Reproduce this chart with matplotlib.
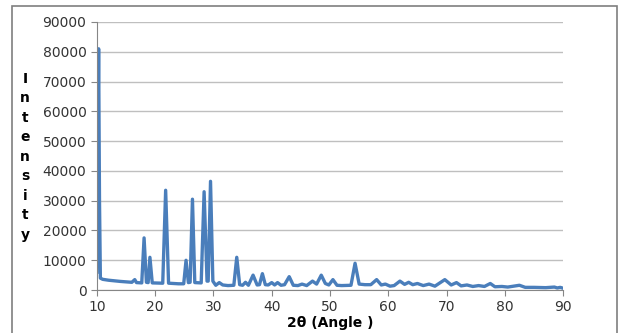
import matplotlib.pyplot as plt
from matplotlib.patches import Rectangle

# XRD pattern (2theta, intensity)
angle = [10.0, 10.15, 10.3, 10.45, 10.6, 11.0, 12.0, 14.0, 16.0, 16.5, 16.8,
         17.7, 18.1, 18.5, 18.8, 19.1, 19.5, 21.3, 21.8, 22.3, 24.0, 24.9,
         25.3, 25.7, 26.0, 26.4, 26.8, 27.9, 28.4, 28.9, 29.1, 29.5, 29.9,
         30.4, 31.0, 31.6, 32.5, 33.5, 34.0, 34.5, 35.0, 35.5, 36.0, 36.8,
         37.5, 37.9, 38.4, 38.9, 39.4, 40.0, 40.5, 41.0, 41.6, 42.2, 43.0,
         43.7, 44.5, 45.2, 46.0, 47.0, 47.7, 48.5, 49.2, 49.8, 50.5, 51.2,
         52.0, 53.6, 54.3, 55.0, 56.0, 57.0, 58.0, 58.8, 59.5, 60.3, 61.0,
         62.0, 62.8, 63.5, 64.2, 65.0, 66.0, 67.0, 68.0, 69.7, 70.8, 71.7,
         72.5, 73.5, 74.5, 75.5, 76.5, 77.5, 78.3, 79.5, 80.5, 81.5, 82.5,
         83.5, 85.0, 87.0, 88.5, 89.0, 89.5, 90.0]
intensity = [6000, 40000, 81000, 30000, 4000, 3600, 3300, 2900, 2600, 3500, 2500,
             2400, 17500, 2600, 2500, 11000, 2400, 2300, 33500, 2300, 2100, 2100,
             10000, 2500, 2600, 30500, 2500, 2400, 33000, 3000, 3000, 36500, 3000,
             1600, 2500, 1700, 1500, 1600, 11000, 1800, 1600, 2600, 1600, 5000,
             1700, 1800, 5500, 1800, 1700, 2500, 1700, 2500, 1600, 1800, 4500,
             1600, 1500, 2000, 1500, 3000, 2000, 5000, 2200, 1700, 3500, 1600,
             1500, 1600, 9000, 2000, 1800, 1800, 3500, 1700, 2000, 1300, 1500,
             3000, 1900, 2600, 1800, 2200, 1500, 2000, 1300, 3500, 1700, 2500,
             1400, 1700, 1200, 1500, 1200, 2200, 1100, 1200, 1000, 1300, 1600,
             900, 900, 800, 1000, 700, 900, 600]

xticks = [10, 20, 30, 40, 50, 60, 70, 80, 90]
yticks = [0, 10000, 20000, 30000, 40000, 50000, 60000, 70000, 80000, 90000]

fig = plt.figure(figsize=(6.25, 3.33), dpi=100, facecolor='white')
ax = fig.add_axes([0.155, 0.129, 0.746, 0.805])

# outer chart frame
fig.patches.append(Rectangle((12 / 625, -0.05), 605 / 625, 1.05 - 6 / 333,
                             transform=fig.transFigure, fill=False,
                             edgecolor='#7f7f7f', linewidth=1.2))

ax.plot(angle, intensity, color='#4a7ebb', linewidth=2.4, solid_joinstyle='round')

ax.set_xlim(10, 90)
ax.set_ylim(0, 90000)
ax.set_xticks(xticks)
ax.set_yticks(yticks)
ax.tick_params(labelsize=10, colors='#333333', length=4, color='#868686')
ax.grid(True, axis='y', color='#bfbfbf', linewidth=1)
ax.set_axisbelow(True)
for side in ['top', 'right']:
    ax.spines[side].set_visible(False)
for side in ['left', 'bottom']:
    ax.spines[side].set_color('#868686')

ax.set_xlabel('2θ (Angle )', fontsize=10, fontweight='bold', labelpad=1)
fig.text(0.04, 0.53, '\n'.join('Intensity'), fontsize=10, fontweight='bold',
         ha='center', va='center', linespacing=1.5)

fig.savefig('out.png', dpi=100)
